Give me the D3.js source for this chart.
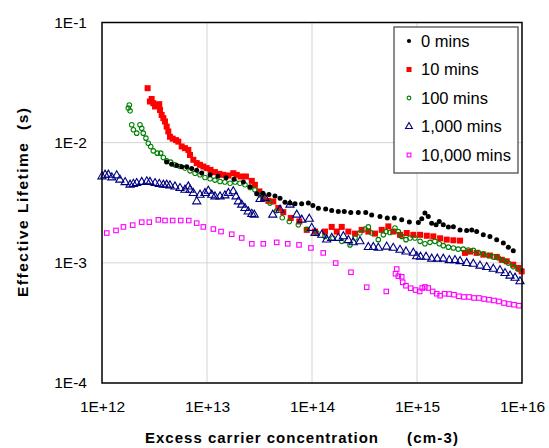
<!DOCTYPE html>
<html><head><meta charset="utf-8">
<script src="https://cdn.jsdelivr.net/npm/d3@7"></script>
<style>html,body{margin:0;padding:0;background:#fff;}svg{display:block;font-family:"Liberation Sans",Arial,sans-serif;}</style>
</head><body><svg id="c" width="549" height="448"></svg>
<script>
const xTicks = [1e12, 1e13, 1e14, 1e15, 1e16];
const xTickLabels = ["1E+12", "1E+13", "1E+14", "1E+15", "1E+16"];
const yTicks = [1e-4, 1e-3, 1e-2, 1e-1];
const yTickLabels = ["1E-4", "1E-3", "1E-2", "1E-1"];
const seriesNames = ["0 mins", "10 mins", "100 mins", "1,000 mins", "10,000 mins"];

const mins0 = [[4.13e12,6.9e-3],[4.61e12,6.6e-3],[5.15e12,6.45e-3],[5.74e12,6.3e-3],[6.41e12,6.3e-3],[7.15e12,6.1e-3],[7.98e12,5.9e-3],[8.91e12,5.6e-3],[1.07e13,5.4e-3],[1.27e13,5.25e-3],[1.52e13,5.1e-3],[1.81e13,4.95e-3],[2.22e13,4.7e-3],[2.57e13,4.3e-3],[2.97e13,3.75e-3],[3.41e13,3.8e-3],[3.89e13,3.7e-3],[4.44e13,3.6e-3],[4.96e13,3.45e-3],[5.53e13,3.2e-3],[6.17e13,3.15e-3],[6.89e13,3.1e-3],[7.97e13,3.1e-3],[9.23e13,3.15e-3],[1.02e14,3.0e-3],[1.15e14,2.85e-3],[1.35e14,2.8e-3],[1.54e14,2.73e-3],[1.78e14,2.67e-3],[2.03e14,2.67e-3],[2.34e14,2.62e-3],[2.76e14,2.62e-3],[3.25e14,2.62e-3],[3.70e14,2.5e-3],[4.44e14,2.43e-3],[5.21e14,2.36e-3],[6.08e14,2.36e-3],[7.15e14,2.28e-3],[8.45e14,2.19e-3],[1.03e15,2.17e-3],[1.11e15,2.33e-3],[1.19e15,2.6e-3],[1.28e15,2.43e-3],[1.38e15,2.14e-3],[1.52e15,2.07e-3],[1.63e15,2.21e-3],[1.78e15,2.07e-3],[1.99e15,1.99e-3],[2.22e15,2.0e-3],[2.57e15,1.88e-3],[2.97e15,1.86e-3],[3.32e15,1.88e-3],[3.70e15,1.82e-3],[4.28e15,1.71e-3],[4.95e15,1.66e-3],[5.74e15,1.56e-3],[6.64e15,1.46e-3],[7.41e15,1.35e-3],[8.26e15,1.26e-3]];

const mins10 = [[2.72e12,2.84e-2],[2.86e12,2.2e-2],[2.97e12,2.31e-2],[3.08e12,2.13e-2],[3.20e12,2.0e-2],[3.36e12,2.06e-2],[3.51e12,2.09e-2],[3.57e12,1.87e-2],[3.70e12,1.70e-2],[3.84e12,1.60e-2],[3.98e12,1.50e-2],[4.13e12,1.36e-2],[4.28e12,1.24e-2],[4.44e12,1.12e-2],[4.71e12,1.08e-2],[5.07e12,1.05e-2],[5.33e12,1.02e-2],[5.74e12,9.3e-3],[6.17e12,9.0e-3],[6.64e12,8.7e-3],[6.89e12,7.9e-3],[7.41e12,7.2e-3],[7.98e12,6.76e-3],[8.58e12,6.54e-3],[9.23e12,6.33e-3],[9.93e12,6.14e-3],[1.08e13,5.94e-3],[1.19e13,5.69e-3],[1.31e13,5.5e-3],[1.43e13,5.4e-3],[1.60e13,5.33e-3],[1.78e13,5.57e-3],[1.92e13,5.4e-3],[2.09e13,5.23e-3],[2.35e13,5.23e-3],[2.67e13,4.81e-3],[2.86e13,4.46e-3],[3.15e13,3.93e-3],[3.44e13,3.5e-3],[3.84e13,3.28e-3],[4.28e13,3.24e-3],[4.78e13,2.86e-3],[5.33e13,2.64e-3],[6.27e13,2.36e-3],[7.57e13,2.21e-3],[8.91e13,1.88e-3],[1.07e14,1.82e-3],[1.33e14,1.82e-3],[1.54e14,1.99e-3],[1.72e14,1.82e-3],[1.92e14,1.99e-3],[2.22e14,1.82e-3],[2.57e14,1.75e-3],[2.97e14,1.88e-3],[3.44e14,1.82e-3],[3.98e14,1.75e-3],[4.61e14,1.88e-3],[5.33e14,2.01e-3],[5.94e14,1.82e-3],[6.89e14,1.71e-3],[7.98e14,1.77e-3],[9.23e14,1.71e-3],[1.07e15,1.71e-3],[1.24e15,1.68e-3],[1.43e15,1.66e-3],[1.66e15,1.60e-3],[1.92e15,1.56e-3],[2.22e15,1.54e-3],[2.57e15,1.53e-3],[2.86e15,1.21e-3],[3.20e15,1.24e-3],[3.70e15,1.21e-3],[4.28e15,1.17e-3],[4.95e15,1.15e-3],[5.74e15,1.12e-3],[6.41e15,1.06e-3],[7.15e15,1.03e-3],[8.26e15,9.65e-4],[9.23e15,9.06e-4],[9.93e15,8.49e-4]];

const mins100 = [[1.82e12,2.06e-2],[1.78e12,1.94e-2],[1.85e12,1.84e-2],[1.92e12,1.41e-2],[1.99e12,1.28e-2],[2.14e12,1.20e-2],[2.30e12,1.41e-2],[2.39e12,1.32e-2],[2.47e12,1.20e-2],[2.62e12,1.09e-2],[2.76e12,9.9e-3],[2.91e12,9.3e-3],[3.08e12,8.55e-3],[3.36e12,8.18e-3],[3.62e12,8.18e-3],[3.84e12,7.52e-3],[4.13e12,7.06e-3],[4.51e12,6.89e-3],[4.95e12,6.54e-3],[5.53e12,6.33e-3],[6.17e12,6.14e-3],[6.89e12,5.83e-3],[7.69e12,5.57e-3],[8.58e12,5.40e-3],[9.57e12,5.13e-3],[1.07e13,5.0e-3],[1.19e13,4.88e-3],[1.33e13,4.75e-3],[1.48e13,4.7e-3],[1.66e13,4.6e-3],[1.85e13,4.7e-3],[2.06e13,4.6e-3],[2.30e13,4.46e-3],[2.57e13,4.23e-3],[2.86e13,4.05e-3],[3.20e13,3.68e-3],[3.44e13,3.41e-3],[3.98e13,3.14e-3],[4.61e13,2.71e-3],[5.21e13,2.37e-3],[6.08e13,2.21e-3],[7.41e13,2.07e-3],[8.91e13,1.90e-3],[1.11e14,1.77e-3],[1.33e14,1.66e-3],[1.58e14,1.61e-3],[1.92e14,1.51e-3],[2.30e14,1.41e-3],[2.57e14,1.61e-3],[2.86e14,1.77e-3],[3.20e14,1.91e-3],[3.44e14,1.99e-3],[3.70e14,1.77e-3],[4.28e14,1.56e-3],[4.78e14,1.71e-3],[5.07e14,1.82e-3],[5.53e14,1.79e-3],[6.17e14,1.95e-3],[6.64e14,1.82e-3],[7.15e14,1.66e-3],[7.85e14,1.56e-3],[8.58e14,1.61e-3],[9.57e14,1.61e-3],[1.07e15,1.51e-3],[1.19e15,1.44e-3],[1.33e15,1.48e-3],[1.48e15,1.51e-3],[1.63e15,1.44e-3],[1.78e15,1.39e-3],[1.99e15,1.35e-3],[2.22e15,1.33e-3],[2.47e15,1.30e-3],[2.76e15,1.30e-3],[3.08e15,1.28e-3],[3.44e15,1.27e-3],[3.84e15,1.22e-3],[4.28e15,1.19e-3],[4.78e15,1.15e-3],[5.33e15,1.12e-3],[5.94e15,1.10e-3],[6.64e15,1.05e-3],[7.41e15,9.95e-4],[8.26e15,9.3e-4],[9.23e15,8.8e-4]];

const mins1000 = [[1.0e12,5.23e-3],[1.07e12,5.40e-3],[1.15e12,5.40e-3],[1.24e12,5.13e-3],[1.38e12,5.33e-3],[1.48e12,4.91e-3],[1.66e12,4.68e-3],[1.85e12,4.46e-3],[1.99e12,4.53e-3],[2.14e12,4.6e-3],[2.39e12,4.7e-3],[2.67e12,4.75e-3],[2.86e12,4.7e-3],[3.20e12,4.6e-3],[3.51e12,4.53e-3],[3.84e12,4.46e-3],[4.13e12,4.46e-3],[4.44e12,4.4e-3],[4.95e12,4.31e-3],[5.53e12,4.18e-3],[6.17e12,4.05e-3],[6.64e12,4.31e-3],[6.89e12,4.05e-3],[7.41e12,3.8e-3],[7.98e12,3.24e-3],[8.58e12,3.68e-3],[9.57e12,3.8e-3],[1.03e13,3.97e-3],[1.11e13,3.68e-3],[1.19e13,3.56e-3],[1.33e13,3.56e-3],[1.48e13,3.63e-3],[1.60e13,3.8e-3],[1.78e13,3.93e-3],[1.89e13,3.56e-3],[1.99e13,3.24e-3],[2.14e13,3.04e-3],[2.30e13,2.85e-3],[2.47e13,2.67e-3],[2.67e13,2.55e-3],[2.82e13,2.51e-3],[3.20e13,3.39e-3],[3.56e13,3.46e-3],[4.23e13,2.51e-3],[4.96e13,2.76e-3],[6.17e13,3.04e-3],[7.15e13,2.51e-3],[7.98e13,2.28e-3],[9.42e13,2.32e-3],[9.93e13,1.95e-3],[1.07e14,1.77e-3],[1.24e14,1.71e-3],[1.38e14,1.56e-3],[1.54e14,1.61e-3],[1.78e14,1.61e-3],[1.99e14,1.66e-3],[2.22e14,1.54e-3],[2.47e14,1.48e-3],[2.86e14,1.51e-3],[3.44e14,1.35e-3],[3.84e14,1.35e-3],[4.28e14,1.33e-3],[5.14e14,1.36e-3],[5.94e14,1.33e-3],[6.89e14,1.28e-3],[7.85e14,1.24e-3],[9.23e14,1.21e-3],[9.93e14,1.13e-3],[1.08e15,1.12e-3],[1.22e15,1.12e-3],[1.38e15,1.08e-3],[1.56e15,1.08e-3],[1.78e15,1.08e-3],[2.03e15,1.05e-3],[2.30e15,1.05e-3],[2.57e15,1.03e-3],[2.97e15,9.95e-4],[3.44e15,9.8e-4],[3.98e15,9.46e-4],[4.61e15,9.2e-4],[5.33e15,8.9e-4],[6.17e15,8.65e-4],[6.89e15,8.2e-4],[7.69e15,7.8e-4],[8.58e15,7.5e-4],[9.57e15,7.0e-4]];

const mins10000 = [[1.11e12,1.77e-3],[1.36e12,1.86e-3],[1.60e12,1.99e-3],[1.96e12,2.06e-3],[2.39e12,2.18e-3],[2.82e12,2.18e-3],[3.44e12,2.28e-3],[3.98e12,2.25e-3],[4.71e12,2.25e-3],[5.62e12,2.25e-3],[6.70e12,2.25e-3],[7.98e12,2.14e-3],[9.23e12,1.99e-3],[1.15e13,1.91e-3],[1.36e13,1.82e-3],[1.72e13,1.73e-3],[2.14e13,1.61e-3],[2.67e13,1.44e-3],[3.44e13,1.44e-3],[4.61e13,1.48e-3],[5.87e13,1.44e-3],[7.52e13,1.41e-3],[9.77e13,1.33e-3],[1.28e14,1.21e-3],[1.68e14,9.95e-4],[2.35e14,8.35e-4],[3.32e14,6.27e-4],[5.10e14,5.78e-4],[6.41e14,8.88e-4],[6.24e14,8.11e-4],[6.64e14,7.74e-4],[7.15e14,7.66e-4],[7.31e14,6.89e-4],[7.85e14,6.45e-4],[8.71e14,6.15e-4],[9.68e14,5.94e-4],[1.06e15,5.78e-4],[1.12e15,6.17e-4],[1.19e15,6.30e-4],[1.28e15,6.17e-4],[1.41e15,5.78e-4],[1.54e15,5.53e-4],[1.66e15,5.33e-4],[1.83e15,5.53e-4],[2.02e15,5.5e-4],[2.25e15,5.43e-4],[2.51e15,5.27e-4],[2.80e15,5.2e-4],[3.13e15,5.2e-4],[3.49e15,5.1e-4],[3.89e15,5.1e-4],[4.35e15,5.0e-4],[4.85e15,4.93e-4],[5.41e15,4.86e-4],[6.04e15,4.77e-4],[6.74e15,4.63e-4],[7.52e15,4.54e-4],[8.39e15,4.48e-4],[9.36e15,4.4e-4]];

const seriesData = [mins0, mins10, mins100, mins1000, mins10000];
const seriesColors = ["#000000", "#ff0000", "#008000", "#000080", "#ff00ff"];

const m = {left: 102, right: 522, top: 22.5, bottom: 383};
const svg = d3.select("#c");
const x = d3.scaleLog().domain([1e12, 1e16]).range([m.left, m.right]);
const y = d3.scaleLog().domain([1e-4, 1e-1]).range([m.bottom, m.top]);

// gridlines
const g = svg.append("g");
g.selectAll("line.gx").data(xTicks.slice(1, -1)).enter().append("line")
  .attr("x1", d => x(d)).attr("x2", d => x(d)).attr("y1", m.top).attr("y2", m.bottom)
  .attr("stroke", "#d4d4d4").attr("stroke-width", 1);
g.selectAll("line.gy").data(yTicks.slice(1, -1)).enter().append("line")
  .attr("y1", d => y(d)).attr("y2", d => y(d)).attr("x1", m.left).attr("x2", m.right)
  .attr("stroke", "#d4d4d4").attr("stroke-width", 1);

// axes (labels only, no tick marks)
const xAxis = d3.axisBottom(x).tickValues(xTicks).tickFormat((d, i) => xTickLabels[i]).tickSize(0).tickPadding(18);
const yAxis = d3.axisLeft(y).tickValues(yTicks).tickFormat((d, i) => yTickLabels[i]).tickSize(0).tickPadding(15);
const ax = svg.append("g").attr("transform", `translate(0,${m.bottom})`).call(xAxis);
const ay = svg.append("g").attr("transform", `translate(${m.left},0)`).call(yAxis);
[ax, ay].forEach(a => {
  a.select(".domain").remove();
  a.selectAll("text").attr("font-size", 15.5).attr("fill", "#000").attr("font-family", "Liberation Sans, Arial, sans-serif");
});

// markers
function drawMarker(sel, i, size) {
  const c = seriesColors[i];
  if (i === 0) sel.append("circle").attr("r", size * 0.5).attr("fill", c);
  else if (i === 1) sel.append("rect").attr("x", -size * 0.6).attr("y", -size * 0.6).attr("width", size * 1.2).attr("height", size * 1.2).attr("fill", c);
  else if (i === 2) sel.append("circle").attr("r", size * 0.45).attr("fill", "none").attr("stroke", c).attr("stroke-width", 1.1);
  else if (i === 3) sel.append("path").attr("d", d3.symbol().type(d3.symbolTriangle).size(size * size * 1.15)()).attr("fill", "none").attr("stroke", c).attr("stroke-width", 1.1);
  else sel.append("rect").attr("x", -size * 0.45).attr("y", -size * 0.45).attr("width", size * 0.9).attr("height", size * 0.9).attr("fill", "none").attr("stroke", c).attr("stroke-width", 1.1);
}

const plot = svg.append("g");
seriesData.forEach((data, i) => {
  plot.append("g").selectAll("g").data(data).enter().append("g")
    .attr("transform", d => `translate(${x(d[0])},${y(d[1])})`)
    .each(function () { drawMarker(d3.select(this), i, 5); });
});
plot.select("g").raise();

// frame
svg.append("rect").attr("x", m.left).attr("y", m.top).attr("width", m.right - m.left).attr("height", m.bottom - m.top)
  .attr("fill", "none").attr("stroke", "#000").attr("stroke-width", 1.5);

// legend
const lg = svg.append("g");
lg.append("rect").attr("x", 394).attr("y", 27).attr("width", 124).attr("height", 146)
  .attr("fill", "#fff").attr("stroke", "#404040").attr("stroke-width", 1.2);
seriesNames.forEach((name, i) => {
  const yy = 41 + i * 28.5;
  const it = lg.append("g").attr("transform", `translate(409,${yy})`);
  drawMarker(it, i, 4.2);
  lg.append("text").attr("x", 421).attr("y", yy).attr("dy", "0.35em")
    .attr("font-size", 16.5).text(name);
});

// axis titles
svg.append("text").attr("x", 145).attr("y", 443).attr("font-weight", "bold").attr("font-size", 15)
  .attr("textLength", 233).attr("lengthAdjust", "spacing").text("Excess carrier concentration");
svg.append("text").attr("x", 407).attr("y", 443).attr("font-weight", "bold").attr("font-size", 15)
  .attr("textLength", 51).attr("lengthAdjust", "spacing").text("(cm-3)");
svg.append("text").attr("transform", "translate(22,202.5) rotate(-90)").attr("text-anchor", "middle")
  .attr("dominant-baseline", "central").attr("font-weight", "bold").attr("font-size", 15.5)
  .attr("textLength", 189).attr("lengthAdjust", "spacing")
  .attr("xml:space", "preserve").text("Effective Lifetime  (s)");
</script></body></html>
